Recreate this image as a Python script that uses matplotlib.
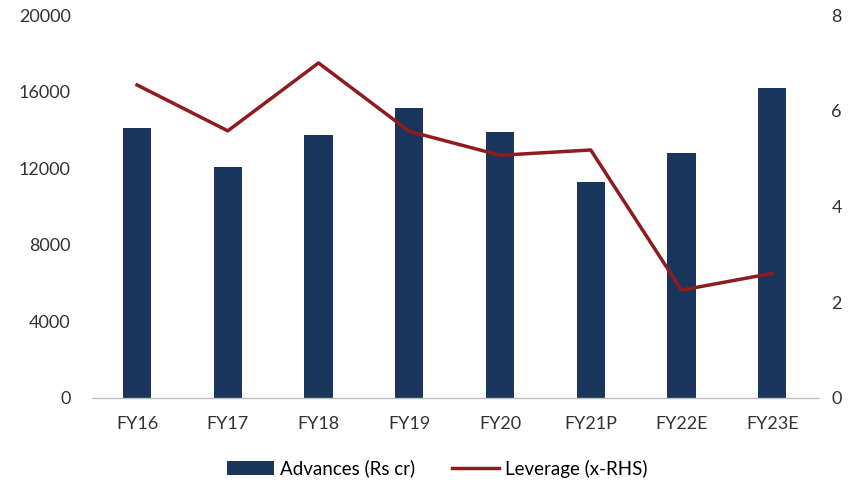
import matplotlib
matplotlib.use("Agg")
import matplotlib.pyplot as plt
import numpy as np

categories = ["FY16", "FY17", "FY18", "FY19", "FY20", "FY21P", "FY22E", "FY23E"]
advances = [14100, 12070, 13730, 15160, 13870, 11290, 12800, 16200]
leverage = [6.54, 5.58, 7.00, 5.57, 5.07, 5.18, 2.25, 2.60]

plt.rcParams['font.family'] = ['Lato', 'DejaVu Sans']

fig = plt.figure(figsize=(8.49, 4.88), dpi=100)
ax = fig.add_axes([0.108, 0.185, 0.855, 0.784])
ax2 = ax.twinx()

x = np.arange(len(categories))
bar_color = "#1B365D"
line_color = "#8E1B1E"

ax.bar(x, advances, width=0.31, color=bar_color, label="Advances (Rs cr)", zorder=2)
ax2.plot(x, leverage, color=line_color, lw=2.5, label="Leverage (x-RHS)", zorder=3)

ax.set_xlim(-0.5, len(categories) - 0.5)
ax.set_ylim(0, 20000)
ax2.set_ylim(0, 8)
ax.set_yticks([0, 4000, 8000, 12000, 16000, 20000])
ax2.set_yticks([0, 2, 4, 6, 8])
ax.set_xticks(x)
ax.set_xticklabels(categories)

for a in (ax, ax2):
    for s in a.spines.values():
        s.set_visible(False)
    a.tick_params(length=0, labelsize=13, colors="#333333")
ax.spines['bottom'].set_visible(True)
ax.spines['bottom'].set_color("#BFBFBF")
ax.spines['bottom'].set_linewidth(1)
ax.tick_params(axis='y', pad=15)
ax.tick_params(axis='x', pad=13)
ax2.tick_params(axis='y', pad=10)

ax2.set_zorder(ax.get_zorder() + 1)
ax2.patch.set_visible(False)

h1, l1 = ax.get_legend_handles_labels()
h2, l2 = ax2.get_legend_handles_labels()
fig.legend(h1 + h2, l1 + l2, loc="center", bbox_to_anchor=(0.515, 0.04), ncol=2,
           frameon=False, fontsize=13.5, handlelength=2.5, handleheight=0.8,
           columnspacing=2.0, handletextpad=0.3)

fig.savefig("out.png", dpi=100)
